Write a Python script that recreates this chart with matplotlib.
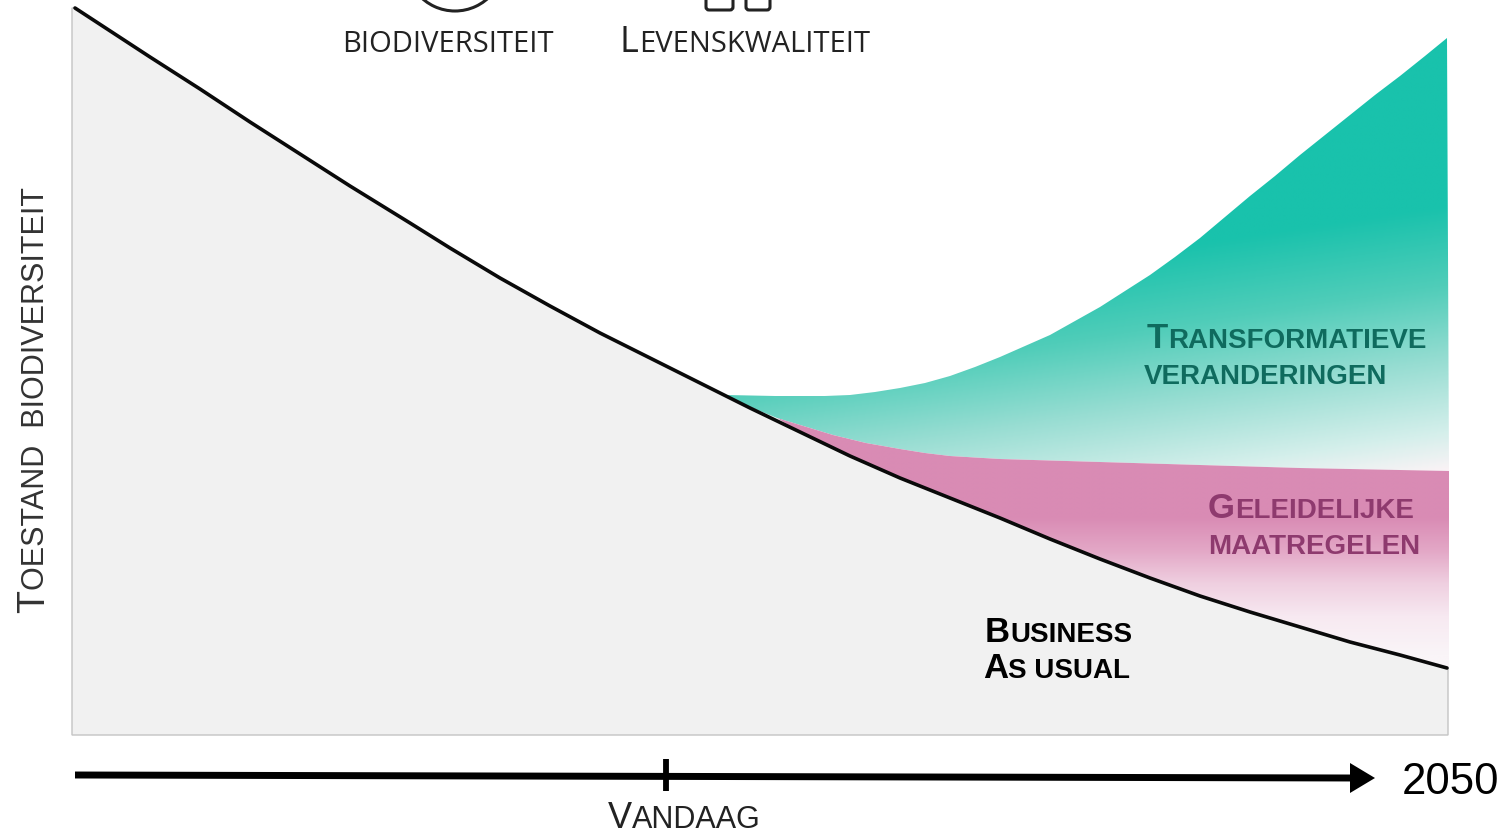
import numpy as np
import matplotlib
matplotlib.use("Agg")
import matplotlib.pyplot as plt
from matplotlib.patches import Polygon, Arc, FancyBboxPatch
from matplotlib.colors import LinearSegmentedColormap

# curves (x and y in picture pixels)
bau_x = [75, 150, 200, 250, 300, 350, 410, 450, 500, 550, 600, 650, 700, 750, 800, 850,
         900, 950, 1000, 1050, 1100, 1150, 1200, 1250, 1300, 1350, 1400, 1447]
bau_y = [8, 57, 89, 122, 154, 186, 223, 248, 278, 306, 333, 358, 383, 408, 432, 456,
         478, 498, 518, 539, 559, 578, 596, 612, 627, 642, 655, 668]

transf_x = [726, 775, 800, 825, 850, 875, 900, 925, 950, 975, 1000, 1025, 1050, 1075, 1100,
            1125, 1150, 1175, 1200, 1225, 1250, 1275, 1300, 1325, 1350, 1375, 1400, 1425, 1447]
transf_y = [395, 396, 396, 396, 395, 392, 388, 383, 376, 367, 357, 346, 335, 321, 307,
            291, 275, 257, 238, 217, 196, 176, 155, 135, 115, 95, 76, 56, 38]

gradual_x = [726, 777, 800, 833, 866, 900, 925, 950, 1000, 1100, 1200, 1300, 1449]
gradual_y = [397, 418, 425, 435, 443, 449, 453, 456, 459, 462, 465, 468, 471]

today_x = 666
timeline_x = [75, 1352]
timeline_y = [775, 778]
arrow_tip = 1375


def gradient_fill(ax, verts, y_top, y_bottom, stops, tilt=0.0):
    # tilt: how much the colour bands lean, in y per x, measured from the right edge
    cmap = LinearSegmentedColormap.from_list("g", stops)
    x0 = min(v[0] for v in verts)
    x1 = max(v[0] for v in verts)
    y0 = min(v[1] for v in verts)
    y1 = max(v[1] for v in verts)
    xx, yy = np.meshgrid(np.linspace(x0, x1, 400), np.linspace(y0, y1, 400))
    grad = np.clip((yy + tilt * (xx - x1) - y_top) / (y_bottom - y_top), 0, 1)
    im = ax.imshow(grad, cmap=cmap, vmin=0, vmax=1, aspect="auto", zorder=2,
                   extent=[x0, x1, y1, y0], interpolation="bilinear")
    patch = Polygon(verts, closed=True, transform=ax.transData, fc="none", ec="none")
    ax.add_patch(patch)
    im.set_clip_path(patch)


def caps(ax, x, y, runs, color="#222222", rotation=0, **kw):
    # small caps: a run of (text, size) pieces placed one after the other
    rend = ax.figure.canvas.get_renderer()
    for s, size in runs:
        t = ax.text(x, y, s, fontsize=size, color=color, rotation=rotation, ha="left",
                    va="baseline", rotation_mode="anchor", zorder=6, **kw)
        box = t.get_window_extent(rend)
        if rotation == 90:
            y -= box.height
        else:
            x += box.width


fig = plt.figure(figsize=(15.06, 8.36), dpi=100)
ax = fig.add_axes([0, 0, 1, 1])
ax.axis("off")

# grey area under business as usual
grey = list(zip(bau_x, bau_y)) + [(1448, 668), (1448, 735), (72, 735), (72, 8)]
ax.add_patch(Polygon(grey, closed=True, fc="#f1f1f1", ec="#c4c4c4", lw=1, zorder=1))

# green and pink wedges
green = list(zip(transf_x, transf_y)) + list(zip(gradual_x[::-1], gradual_y[::-1]))
gradient_fill(ax, green, 205, 472,
              [(0, "#19c2ac"), (0.30, "#50cdb9"), (0.58, "#97ddd2"), (0.85, "#d4efeb"), (1, "#fbf3f6")],
              tilt=0.15)

i0 = 14
pink = list(zip(gradual_x[1:], gradual_y[1:])) + [(1449, 668)] + list(zip(bau_x[i0:], bau_y[i0:]))[::-1]
gradient_fill(ax, pink, 517, 655,
              [(0, "#d98bb4"), (0.24, "#e3a7c6"), (0.48, "#efcfe0"), (0.72, "#f7e9f1"), (1, "#faf5f8")])

ax.plot(bau_x, bau_y, color="#0a0a0a", lw=2.6, zorder=4, solid_capstyle="round", solid_joinstyle="round")

# timeline
ax.plot(timeline_x, timeline_y, color="black", lw=5, zorder=5, solid_capstyle="butt")
ax.annotate("", xy=(arrow_tip, timeline_y[1]), xytext=(timeline_x[1] - 2, timeline_y[1]),
            arrowprops=dict(arrowstyle="-|>,head_length=1,head_width=0.6", mutation_scale=18,
                            fc="black", ec="black", lw=0, shrinkA=0, shrinkB=0), zorder=5)
ax.plot([today_x, today_x], [759, 791], color="black", lw=4.2, zorder=5, solid_capstyle="butt")

# icons, cut off at the top edge
ax.add_patch(Arc((455, -38), 98, 98, theta1=40, theta2=140, color="#222222", lw=2.2, zorder=5))
ax.add_patch(FancyBboxPatch((706, -6), 27, 16, boxstyle="round,pad=0,rounding_size=3",
                            fc="white", ec="#222222", lw=2.2, zorder=5))
ax.add_patch(FancyBboxPatch((746, -6), 24, 16, boxstyle="round,pad=0,rounding_size=3",
                            fc="white", ec="#222222", lw=2.2, zorder=5))

# labels
caps(ax, 342, 52, [("BIODIVERSITEIT", 21)], family="Open Sans")
caps(ax, 620, 52, [("L", 26), ("EVENSKWALITEIT", 21)], family="Open Sans")
caps(ax, 44, 613, [("T", 27), ("OESTAND  BIODIVERSITEIT", 22)], rotation=90, family="Liberation Sans", color="#333333")

teal = "#0f6b5e"
plum = "#8e3a6e"
caps(ax, 1147, 348, [("T", 25), ("RANSFORMATIEVE", 20)], color=teal, family="Liberation Sans", weight="bold")
caps(ax, 1144, 384, [("VERANDERINGEN", 20)], color=teal, family="Liberation Sans", weight="bold")
caps(ax, 1208, 518, [("G", 25), ("ELEIDELIJKE", 20)], color=plum, family="Liberation Sans", weight="bold")
caps(ax, 1208, 554, [("MAATREGELEN", 20)], color=plum, family="Liberation Sans", weight="bold")
caps(ax, 985, 642, [("B", 25), ("USINESS", 20)], color="black", family="Liberation Sans", weight="bold")
caps(ax, 983, 678, [("A", 25), ("S USUAL", 20)], color="black", family="Liberation Sans", weight="bold")

caps(ax, 608, 828, [("V", 26), ("ANDAAG", 22)], family="Liberation Sans", color="#222222")
caps(ax, 1402, 794, [("2050", 31.5)], family="Liberation Sans", color="black")

ax.set_xlim(0, 1506)
ax.set_ylim(836, 0)

fig.savefig("out.png", dpi=100)
